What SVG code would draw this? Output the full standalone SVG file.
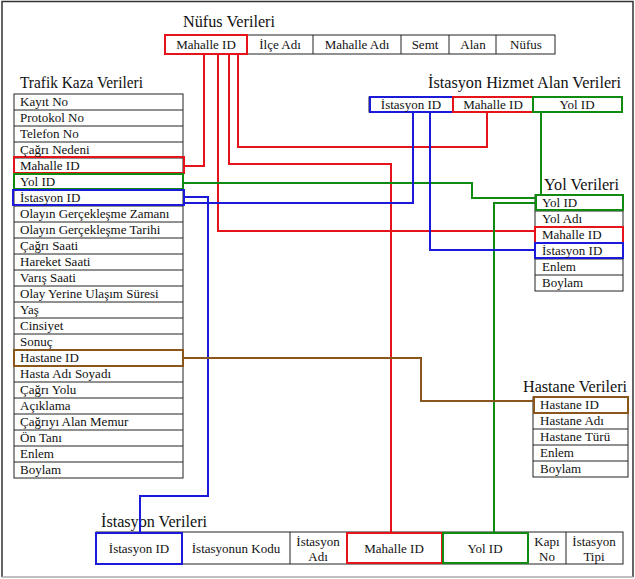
<svg xmlns="http://www.w3.org/2000/svg" width="635" height="579" viewBox="0 0 635 579" font-family="'Liberation Serif', 'DejaVu Serif', serif">
<style>
.bg{fill:#fff}
.frame{fill:none;stroke:#333;stroke-width:1.5}
.cell{fill:#fff;stroke:#222;stroke-width:1}
.t{font-family:'Liberation Serif','DejaVu Serif',serif;font-size:13px;fill:#111}
.ti{font-family:'Liberation Serif','DejaVu Serif',serif;font-size:16px;fill:#111}
.c{text-anchor:middle}
.r{fill:none;stroke:#e5141b;stroke-width:2}
.g{fill:none;stroke:#108a10;stroke-width:2}
.b{fill:none;stroke:#1a1ad8;stroke-width:2}
.br{fill:none;stroke:#8a561c;stroke-width:2}
</style>
<rect class="bg" x="0" y="0" width="635" height="579"/>
<path d="M2,577 V1.5 H633 V577" class="frame"/>
<line x1="2" y1="577" x2="633" y2="577" stroke="#aaa" stroke-width="1.5"/>

<g id="nufus">
<text class="ti" x="183" y="27" textLength="92" lengthAdjust="spacingAndGlyphs">Nüfus Verileri</text>
<rect class="cell" x="165" y="35" width="390" height="19"/>
<line class="cell" x1="313" y1="35" x2="313" y2="54"/>
<line class="cell" x1="401" y1="35" x2="401" y2="54"/>
<line class="cell" x1="449" y1="35" x2="449" y2="54"/>
<line class="cell" x1="496" y1="35" x2="496" y2="54"/>
<rect class="r" x="165" y="35" width="82" height="19"/>
<text class="t c" x="206" y="49">Mahalle ID</text>
<text class="t c" x="280" y="49">İlçe Adı</text>
<text class="t c" x="357" y="49">Mahalle Adı</text>
<text class="t c" x="425" y="49">Semt</text>
<text class="t c" x="473" y="49">Alan</text>
<text class="t c" x="526" y="49">Nüfus</text>
</g>

<g id="trafik">
<text class="ti" x="20" y="88" textLength="123" lengthAdjust="spacingAndGlyphs">Trafik Kaza Verileri</text>
<rect class="cell" x="14" y="94" width="169" height="384"/>
<path class="cell" fill="none" d="M14,110H183M14,126H183M14,142H183M14,158H183M14,174H183M14,190H183M14,206H183M14,222H183M14,238H183M14,254H183M14,270H183M14,286H183M14,302H183M14,318H183M14,334H183M14,350H183M14,366H183M14,382H183M14,398H183M14,414H183M14,430H183M14,446H183M14,462H183"/>
<rect class="r" x="14" y="157" width="170" height="16"/>
<rect class="g" x="14" y="174" width="169" height="15"/>
<rect class="b" x="13" y="190" width="171" height="15"/>
<rect class="br" x="14" y="350" width="169" height="16"/>
<text class="t" x="20" y="106">Kayıt No</text>
<text class="t" x="20" y="122">Protokol No</text>
<text class="t" x="20" y="138">Telefon No</text>
<text class="t" x="20" y="154">Çağrı Nedeni</text>
<text class="t" x="20" y="170">Mahalle ID</text>
<text class="t" x="20" y="186">Yol ID</text>
<text class="t" x="20" y="202">İstasyon ID</text>
<text class="t" x="20" y="218">Olayın Gerçekleşme Zamanı</text>
<text class="t" x="20" y="234">Olayın Gerçekleşme Tarihi</text>
<text class="t" x="20" y="250">Çağrı Saati</text>
<text class="t" x="20" y="266">Hareket Saati</text>
<text class="t" x="20" y="282">Varış Saati</text>
<text class="t" x="20" y="298">Olay Yerine Ulaşım Süresi</text>
<text class="t" x="20" y="314">Yaş</text>
<text class="t" x="20" y="330">Cinsiyet</text>
<text class="t" x="20" y="346">Sonuç</text>
<text class="t" x="20" y="362">Hastane ID</text>
<text class="t" x="20" y="378">Hasta Adı Soyadı</text>
<text class="t" x="20" y="394">Çağrı Yolu</text>
<text class="t" x="20" y="410">Açıklama</text>
<text class="t" x="20" y="426">Çağrıyı Alan Memur</text>
<text class="t" x="20" y="442">Ön Tanı</text>
<text class="t" x="20" y="458">Enlem</text>
<text class="t" x="20" y="474">Boylam</text>
</g>

<g id="istasyon-hizmet">
<text class="ti" x="428" y="88" textLength="193" lengthAdjust="spacingAndGlyphs">İstasyon Hizmet Alan Verileri</text>
<rect class="cell" x="369" y="97" width="253" height="15"/>
<rect class="b" x="370" y="97" width="83" height="15"/>
<rect class="r" x="453" y="97" width="80" height="15"/>
<rect class="g" x="533" y="97" width="89" height="15"/>
<text class="t c" x="411" y="109">İstasyon ID</text>
<text class="t c" x="493" y="109">Mahalle ID</text>
<text class="t c" x="577" y="109">Yol ID</text>
</g>

<g id="yol">
<text class="ti" x="544" y="190" textLength="75" lengthAdjust="spacingAndGlyphs">Yol Verileri</text>
<rect class="cell" x="535" y="195" width="88" height="96"/>
<path class="cell" fill="none" d="M535,211H623M535,227H623M535,243H623M535,259H623M535,275H623"/>
<rect class="g" x="536" y="195" width="87" height="15"/>
<rect class="r" x="535" y="227" width="88" height="16"/>
<rect class="b" x="535" y="243" width="88" height="15"/>
<text class="t" x="542" y="207">Yol ID</text>
<text class="t" x="542" y="223">Yol Adı</text>
<text class="t" x="542" y="239">Mahalle ID</text>
<text class="t" x="542" y="255">İstasyon ID</text>
<text class="t" x="542" y="271">Enlem</text>
<text class="t" x="542" y="287">Boylam</text>
</g>

<g id="hastane">
<text class="ti" x="523" y="392" textLength="104" lengthAdjust="spacingAndGlyphs">Hastane Verileri</text>
<rect class="cell" x="533" y="397" width="95" height="80"/>
<path class="cell" fill="none" d="M533,413H628M533,429H628M533,445H628M533,461H628"/>
<rect class="br" x="534" y="397" width="94" height="16"/>
<text class="t" x="540" y="409">Hastane ID</text>
<text class="t" x="540" y="425">Hastane Adı</text>
<text class="t" x="540" y="441">Hastane Türü</text>
<text class="t" x="540" y="457">Enlem</text>
<text class="t" x="540" y="473">Boylam</text>
</g>

<g id="istasyon">
<text class="ti" x="101" y="527" textLength="106" lengthAdjust="spacingAndGlyphs">İstasyon Verileri</text>
<rect class="cell" x="96" y="532" width="527" height="32"/>
<line class="cell" x1="290" y1="532" x2="290" y2="564"/>
<line class="cell" x1="528" y1="532" x2="528" y2="564"/>
<line class="cell" x1="566" y1="532" x2="566" y2="564"/>
<rect class="b" x="96" y="533" width="86" height="31"/>
<rect class="r" x="347" y="533" width="95" height="30"/>
<rect class="g" x="443" y="533" width="85" height="30"/>
<text class="t c" x="139" y="553">İstasyon ID</text>
<text class="t c" x="236" y="553">İstasyonun Kodu</text>
<text class="t c" x="318" y="546">İstasyon</text>
<text class="t c" x="318" y="561">Adı</text>
<text class="t c" x="394" y="553">Mahalle ID</text>
<text class="t c" x="485" y="553">Yol ID</text>
<text class="t c" x="547" y="546">Kapı</text>
<text class="t c" x="547" y="561">No</text>
<text class="t c" x="594" y="546">İstasyon</text>
<text class="t c" x="594" y="561">Tipi</text>
</g>

<g id="connectors">
<path class="r" d="M204,54V166H184"/>
<path class="r" d="M238,54V147H487V112"/>
<path class="r" d="M229,54V164H391V533"/>
<path class="r" d="M218,54V231H535"/>
<path class="g" d="M183,183H472V198H536"/>
<path class="g" d="M541,112V195"/>
<path class="g" d="M536,203H494V533"/>
<path class="b" d="M413,112V203H184"/>
<path class="b" d="M184,197H208V496H140V533"/>
<path class="b" d="M430,112V250H535"/>
<path class="br" d="M183,358H421V401H534"/>
</g>
</svg>
